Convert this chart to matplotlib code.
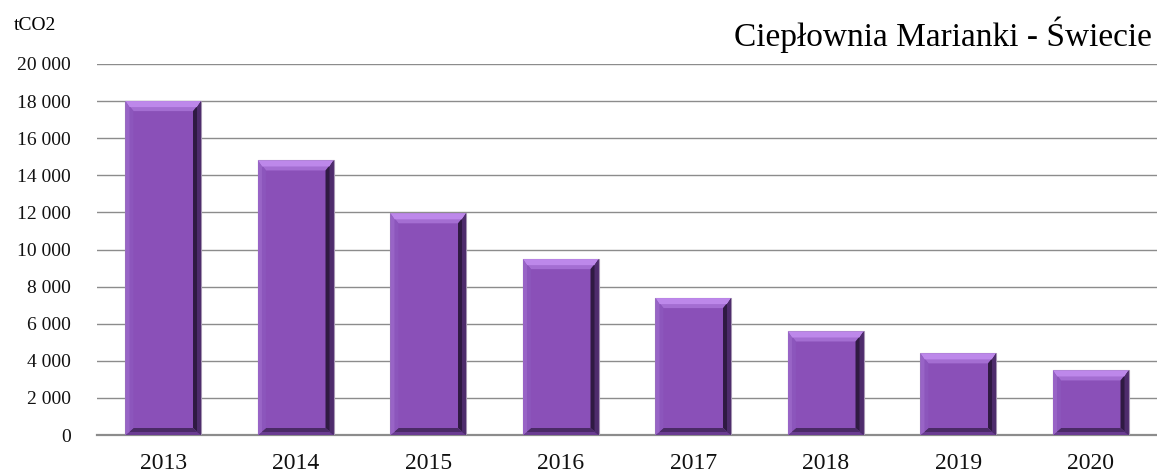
import numpy as np
import matplotlib.pyplot as plt
from matplotlib.patches import Polygon

years = ['2013', '2014', '2015', '2016', '2017', '2018', '2019', '2020']
emissions = [18000, 14800, 11950, 9480, 7380, 5580, 4400, 3480]
yticks = [0, 2000, 4000, 6000, 8000, 10000, 12000, 14000, 16000, 18000, 20000]

W, H, DPI = 1157, 472, 100
plt.rcParams['font.family'] = ['Liberation Serif', 'DejaVu Serif']

fig = plt.figure(figsize=(W / DPI, H / DPI), dpi=DPI)
ax = fig.add_axes([97 / W, 37 / H, 1 - 97 / W, (435 - 64) / H])

x = np.arange(len(years))
bw = 0.57
bars = ax.bar(x, emissions, width=bw, color='#8a50b8', edgecolor='#a898b4',
              linewidth=0.8, zorder=3)

ax.set_xlim(-0.5, len(years) - 0.5)
ax.set_ylim(0, 20000)

# pixel -> data scale, used for the bevel edges
px_x = len(years) / (W - 97)
px_y = 20000 / (435 - 64)


def bevel(ax, r, tb, sb, bb, cols, z):
    x0, x1 = r.get_x(), r.get_x() + r.get_width()
    y0, y1 = 0, r.get_height()
    faces = [
        ([(x0, y1), (x1, y1), (x1 - sb, y1 - tb), (x0 + sb, y1 - tb)], cols[0]),
        ([(x1, y1), (x1, y0), (x1 - sb, y0 + bb), (x1 - sb, y1 - tb)], cols[1]),
        ([(x0, y0), (x1, y0), (x1 - sb, y0 + bb), (x0 + sb, y0 + bb)], cols[2]),
        ([(x0, y1), (x0, y0), (x0 + sb, y0 + bb), (x0 + sb, y1 - tb)], cols[3]),
    ]
    for pts, c in faces:
        ax.add_patch(Polygon(pts, closed=True, facecolor=c, edgecolor='none', zorder=z))


for r in bars:
    # outer ring then inner ring gives a softer bevel
    bevel(ax, r, 10 * px_y, 8 * px_x, 7 * px_y,
          ['#a46ed2', '#2f1a42', '#4a2a66', '#8c56bc'], 4)
    bevel(ax, r, 6 * px_y, 4 * px_x, 3 * px_y,
          ['#bd88ea', '#4e2c6c', '#6a3c92', '#9864c6'], 5)

ax.set_yticks(yticks)
ax.set_yticklabels([f'{v:,}'.replace(',', ' ') for v in yticks], fontsize=14)
ax.set_xticks(x)
ax.set_xticklabels(years, fontsize=17)
ax.tick_params(axis='both', length=0, colors='#111111')
ax.tick_params(axis='y', pad=19)
ax.tick_params(axis='x', pad=13)

ax.grid(axis='y', color='#8c8c8c', linewidth=1.0, zorder=0)
for s in ['top', 'right', 'left']:
    ax.spines[s].set_visible(False)
ax.spines['bottom'].set_color('#8c8c8c')
ax.spines['bottom'].set_linewidth(1.6)

fig.text(14 / W, 1 - 26 / H, 'tCO2', fontsize=14, va='center', ha='left')
fig.text(1152 / W, 1 - 35 / H, 'Ciepłownia Marianki - Świecie', fontsize=24,
         va='center', ha='right')

fig.savefig('out.png', dpi=DPI)
